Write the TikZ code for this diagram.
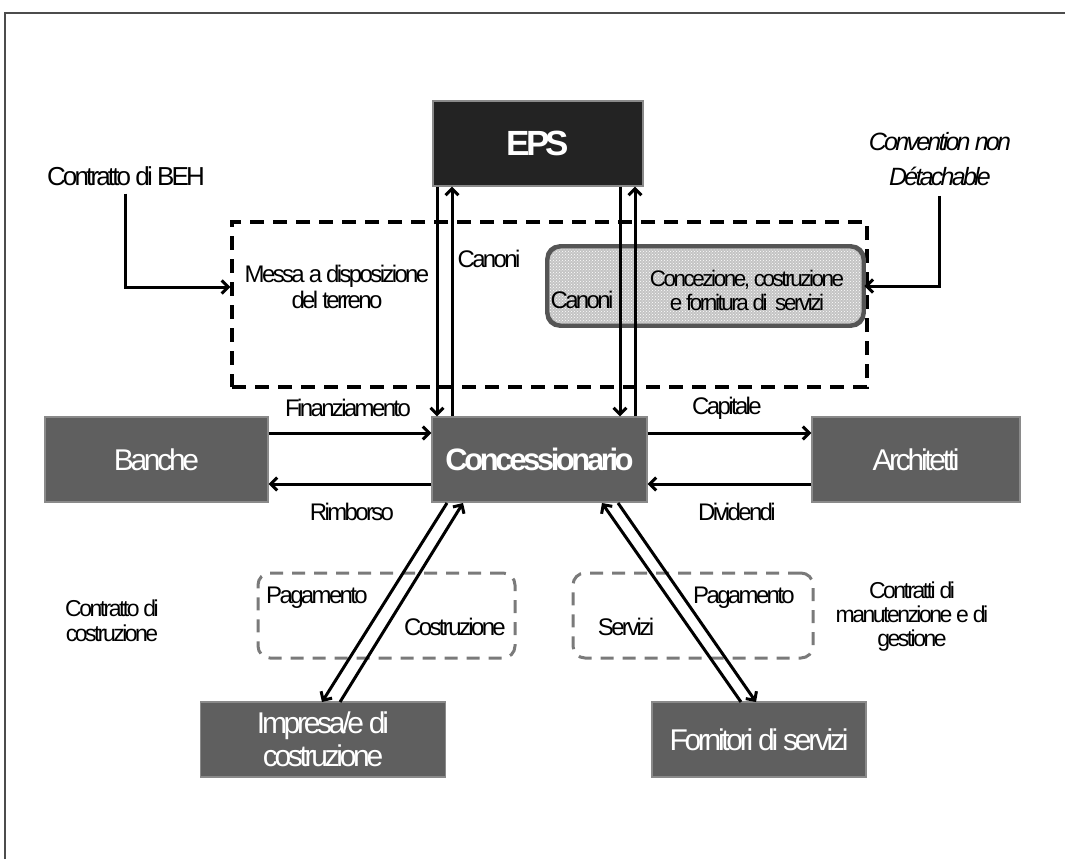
\documentclass[tikz,border=0pt]{standalone}
\usepackage{fontspec}
\setmainfont{Liberation Sans}
\newfontfamily\lf[LetterSpace=-11]{Liberation Sans}
\usetikzlibrary{arrows.meta,patterns,calc}
\definecolor{epsc}{HTML}{232323}
\definecolor{boxc}{HTML}{5F5F5F}
\definecolor{boxedge}{HTML}{8A8A8A}
\definecolor{dashg}{HTML}{7A7A7A}
\definecolor{innerfill}{HTML}{C4C4C4}
\definecolor{inneredge}{HTML}{555555}
\begin{document}
\begin{tikzpicture}[x=1pt,y=-1pt,
  lbl/.style={font=\lf\fontsize{24}{26}\selectfont, inner sep=0pt, align=center},
  box/.style={fill=boxc, draw=boxedge, line width=1.2pt, text=white, inner sep=0pt, align=center,
     font=\lf\fontsize{30}{33}\selectfont},
  arr/.style={line width=3pt, -{Straight Barb[length=6.5pt,width=13pt]}},
  gdash/.style={draw=dashg, line width=3pt, dash pattern=on 13pt off 9pt, rounded corners=12pt}
]
\useasboundingbox (0,0) rectangle (1065,859);
% frame
\draw[line width=1.5pt, draw=black!70] (5,859) -- (5,13) -- (1065,13);

% dashed area
\node[draw, line width=3.5pt, dash pattern=on 14pt off 9pt, minimum width=635pt, minimum height=165pt, inner sep=0pt] (dbox) at (549.5,304.5) {};
% inner rounded box
\node[fill=innerfill, draw=inneredge, line width=2.8pt, rounded corners=13pt, minimum width=315pt, minimum height=78pt, inner sep=0pt] (inner) at (705.5,286) {};
\fill[pattern=crosshatch dots, pattern color=white, rounded corners=12pt] (550,249) rectangle (861,323);
\draw[draw=inneredge, line width=2.8pt, rounded corners=13pt] (inner.south west) rectangle (inner.north east);

% main boxes
\node[box, fill=epsc, minimum width=210pt, minimum height=85pt, font=\lf\bfseries\fontsize{35}{38}\selectfont] (eps) at (538,143.5) {EPS};
\node[box, minimum width=215pt, minimum height=85pt, font=\lf\bfseries\fontsize{31}{34}\selectfont] (conc) at (539.5,459.5) {Concessionario};
\node[box, minimum width=223pt, minimum height=85pt] (banche) at (156.5,459.5) {Banche};
\node[box, minimum width=208pt, minimum height=85pt] (arch) at (916,459.5) {Architetti};
\node[box, minimum width=245pt, minimum height=75pt] (impresa) at (323,739.5) {Impresa/e di\\costruzione};
\node[box, minimum width=214pt, minimum height=75pt] (forn) at (759,739.5) {Fornitori di servizi};

% gray dashed rounded boxes
\node[gdash, minimum width=257pt, minimum height=85pt, inner sep=0pt] (gl) at (386.5,615.5) {};
\node[gdash, minimum width=240pt, minimum height=85pt, inner sep=0pt] (gr) at (693,615.5) {};

% labels
\node[lbl, font=\lf\fontsize{26}{28}\selectfont] (beh) at (126,176) {Contratto di BEH};
\node[lbl, font=\lf\itshape\fontsize{25}{35}\selectfont] (conv) at (940,159) {Convention non\\Détachable};
\node[lbl] (messa) at (337,287) {Messa a disposizione\\del terreno};
\node[lbl] (can1) at (489,259) {Canoni};
\node[lbl] (can2) at (582,300) {Canoni};
\node[lbl, font=\lf\fontsize{22.5}{24}\selectfont] (conce) at (747,290) {Concezione, costruzione\\e fornitura di~ servizi};
\node[lbl] (fin) at (348,408) {Finanziamento};
\node[lbl] (rimb) at (352,512) {Rimborso};
\node[lbl] (cap) at (727,408) {Capitale};
\node[lbl] (div) at (737,512) {Dividendi};
\node[lbl] (pagl) at (317,598) {Pagamento};
\node[lbl] (costr) at (455,627) {Costruzione};
\node[lbl] (pagr) at (744,598) {Pagamento};
\node[lbl] (serv) at (626,627) {Servizi};
\node[lbl, font=\lf\fontsize{23}{25}\selectfont] (ccos) at (112,620.5) {Contratto di\\costruzione};
\node[lbl, font=\lf\fontsize{23}{24}\selectfont] (cman) at (912,617) {Contratti di\\manutenzione e di\\gestione};

% coordinates
\coordinate (x1) at (437,0);
\coordinate (x2) at (452,0);
\coordinate (x3) at (620,0);
\coordinate (x4) at (635,0);
\coordinate (y1) at (0,433);
\coordinate (y2) at (0,484);
\coordinate (ybeh) at (0,287);
\coordinate (yconv) at (0,286);

% vertical arrows EPS <-> Concessionario
\draw[arr] (eps.south -| x1) -- (conc.north -| x1);
\draw[arr] (conc.north -| x2) -- (eps.south -| x2);
\draw[arr] (eps.south -| x3) -- (conc.north -| x3);
\draw[arr] (conc.north -| x4) -- (eps.south -| x4);

% horizontal arrows
\draw[arr] (banche.east |- y1) -- (conc.west |- y1);
\draw[arr] (conc.west |- y2) -- (banche.east |- y2);
\draw[arr] (conc.east |- y1) -- (arch.west |- y1);
\draw[arr] (arch.west |- y2) -- (conc.east |- y2);

% contract arrows
\draw[arr] (beh.south) ++(-1,8) |- (ybeh -| dbox.west);
\draw[arr] (conv.south) ++(-1,10) |- (yconv -| inner.east);

% diagonal arrows
\coordinate (a1) at (447,503);
\coordinate (a2) at (322,702);
\coordinate (b1) at (340,702);
\coordinate (b2) at (463,503);
\coordinate (c1) at (741,702);
\coordinate (c2) at (602,503);
\coordinate (d1) at (618,503);
\coordinate (d2) at (756,702);
\draw[arr] (a1) -- (a2);
\draw[arr] (b1) -- (b2);
\draw[arr] (c1) -- (c2);
\draw[arr] (d1) -- (d2);
\end{tikzpicture}
\end{document}
